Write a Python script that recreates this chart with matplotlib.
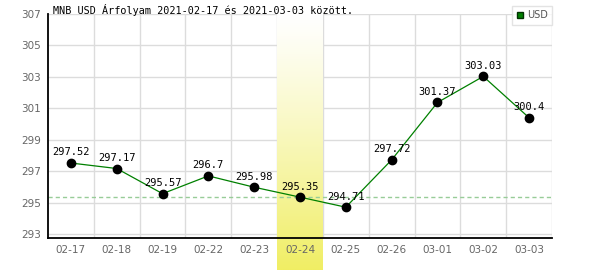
import numpy as np
import matplotlib
matplotlib.use("Agg")
import matplotlib.pyplot as plt
from matplotlib.lines import Line2D

# adatok
dates = ['02-17', '02-18', '02-19', '02-22', '02-23', '02-24',
         '02-25', '02-26', '03-01', '03-02', '03-03']
rates = [297.52, 297.17, 295.57, 296.7, 295.98, 295.35,
         294.71, 297.72, 301.37, 303.03, 300.4]
highlight = 5
yticks = [293, 295, 297, 299, 301, 303, 305, 307]
title = 'MNB USD Árfolyam 2021-02-17 és 2021-03-03 között.'

fig = plt.figure(figsize=(6, 2.7), dpi=100)
ax = fig.add_axes([48/600, 32/270, 504/600, 224/270])

x = np.arange(len(dates))
ymin, ymax = 292.75, 307
ax.set_xlim(-0.5, len(dates) - 0.5)
ax.set_ylim(ymin, ymax)

# racsvonalak
ax.hlines(yticks, -0.5, len(dates) - 0.5, color='#dcdcdc', lw=1, zorder=0.5)
ax.vlines(x + 0.5, ymin, ymax, color='#dcdcdc', lw=1, zorder=0.5)

# kiemelt nap sav (szinatmenet)
px_per_unit = 224 / (ymax - ymin)
band_bottom = ymin - 32 / px_per_unit
grad = np.linspace(0, 1, 256)[:, None] ** 1.15
top_c = np.array([1.0, 1.0, 1.0])
bot_c = np.array([240, 238, 100]) / 255
img = top_c + (bot_c - top_c) * grad
img = np.repeat(img[:, None, :], 2, axis=1)
ax.imshow(img, extent=[highlight - 0.5, highlight + 0.5, band_bottom, ymax],
          origin='upper', aspect='auto', zorder=1, clip_on=False)
ax.set_xlim(-0.5, len(dates) - 0.5)
ax.set_ylim(ymin, ymax)

# referencia vonal
ax.axhline(rates[highlight], color='#98cc98', lw=1, ls=(0, (3, 2.2)), zorder=1.2)

ax.plot(x, rates, color='#008000', lw=0.9, zorder=3)
ax.plot(x, rates, 'o', color='black', ms=6, zorder=4)

for xi, v in zip(x, rates):
    ax.annotate(f'{v:g}', (xi, v), xytext=(0, 4), textcoords='offset points',
                ha='center', va='bottom', fontsize=7.5,
                family='DejaVu Sans Mono', color='black', zorder=5)

ax.set_xticks(x)
ax.set_xticklabels(dates)
ax.set_yticks(yticks)
ax.tick_params(length=0, labelsize=7.5, labelcolor='#666666', pad=5)
for lbl in ax.get_xticklabels() + ax.get_yticklabels():
    lbl.set_family('DejaVu Sans')

for s in ['top', 'right']:
    ax.spines[s].set_visible(False)
for s in ['left', 'bottom']:
    ax.spines[s].set_color('black')
    ax.spines[s].set_linewidth(1.3)
    ax.spines[s].set_zorder(2.5)

ax.set_facecolor('none')

fig.text(53/600, 1 - 4/270, title, ha='left', va='top', fontsize=7.3,
         family='DejaVu Sans Mono', color='black')

handle = Line2D([], [], marker='s', ls='none', color='#008000',
                markeredgecolor='#003300', ms=5)
leg = fig.legend([handle], ['USD'], loc='upper right',
                 bbox_to_anchor=(552/600, 1 - 6/270), frameon=True,
                 fancybox=False, fontsize=7, handlelength=0.8,
                 handletextpad=0.3, borderpad=0.45, borderaxespad=0)
leg.get_frame().set_edgecolor('#dddddd')
leg.get_frame().set_linewidth(1)
for t in leg.get_texts():
    t.set_color('#555555')

fig.savefig('out.png', dpi=100)
